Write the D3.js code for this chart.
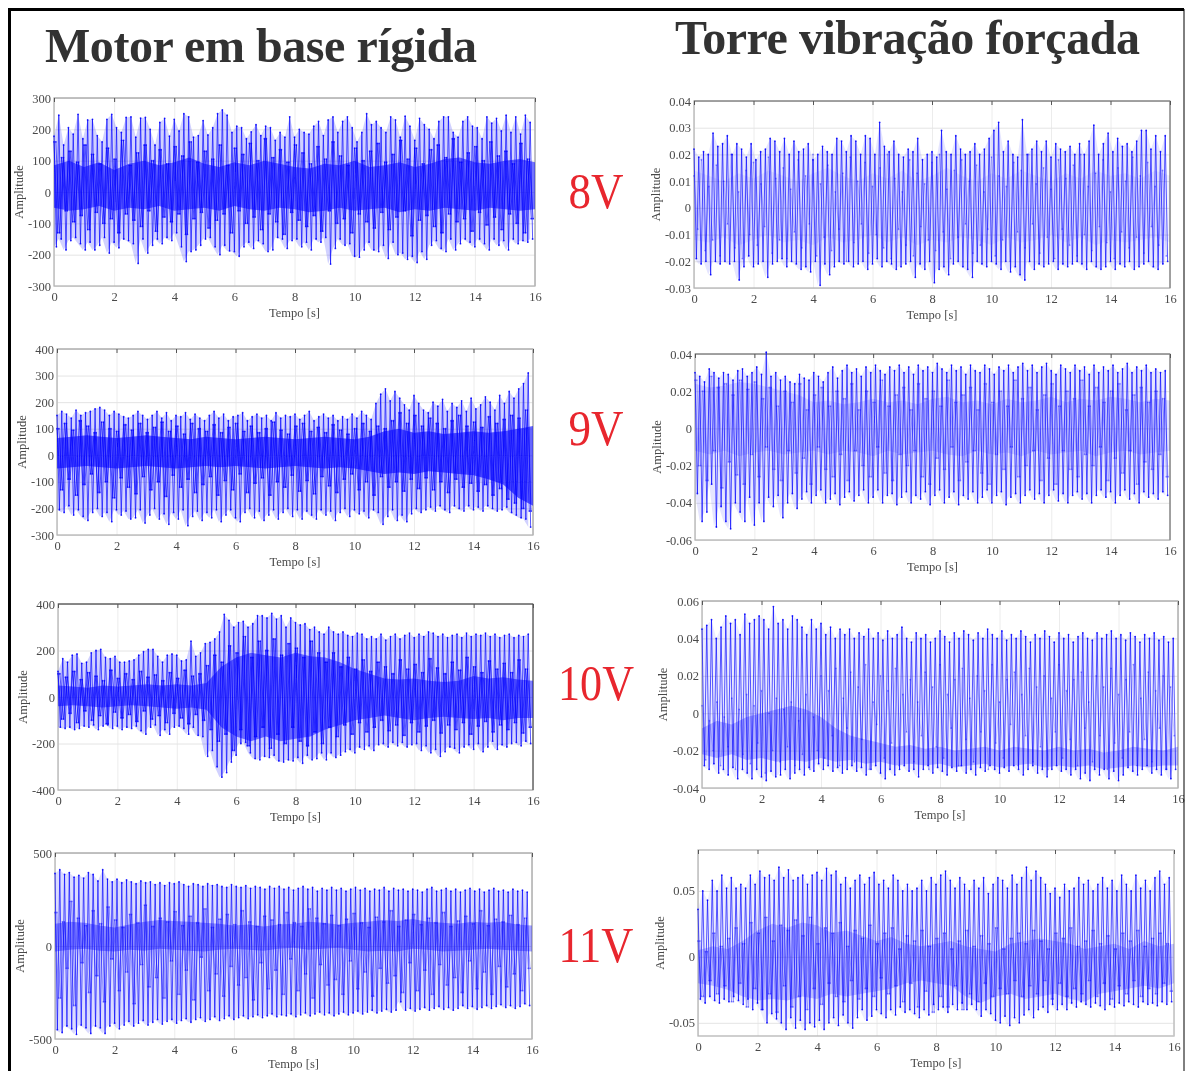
<!DOCTYPE html>
<html>
<head>
<meta charset="utf-8">
<script src="https://cdnjs.cloudflare.com/ajax/libs/d3/7.8.5/d3.min.js"></script>
<style>
html, body { margin: 0; padding: 0; background: #fff; overflow: hidden; }
svg { display: block; }
text { font-family: "Liberation Serif", serif; }
</style>
</head>
<body>
<script>
const WIDTH = 1185;
const HEIGHT = 1071;

const tempoTicks = [0, 2, 4, 6, 8, 10, 12, 14, 16];
const motor8Ticks = [-300, -200, -100, 0, 100, 200, 300];
const motor9Ticks = [-300, -200, -100, 0, 100, 200, 300, 400];
const motor10Ticks = [-400, -200, 0, 200, 400];
const motor11Ticks = [-500, 0, 500];
const torre8Ticks = [-0.03, -0.02, -0.01, 0, 0.01, 0.02, 0.03, 0.04];
const torre9Ticks = [-0.06, -0.04, -0.02, 0, 0.02, 0.04];
const torre10Ticks = [-0.04, -0.02, 0, 0.02, 0.04, 0.06];
const torre11Ticks = [-0.05, 0, 0.05];

// peaks: tallest swings, then the shorter ones between, then the dense band
const motor8Top = [178,245,150,205,185,248,170,230,232,180,160,232,248,205,190,238,240,175,236,238,200,150,222,235,178,232,195,250,240,175,180,228,182,205,250,262,245,190,210,205,170,192,215,180,210,205,165,190,175,240,175,200,190,185,210,225,180,230,240,190,225,240,205,160,190,250,215,225,205,190,240,230,175,242,210,165,235,215,200,170,225,240,240,190,175,225,240,210,205,170,240,220,235,195,245,190,240,185,245,222];
const motor8Bot = [-175,-150,-185,-155,-145,-165,-185,-160,-185,-170,-145,-195,-160,-178,-150,-155,-165,-228,-150,-195,-170,-150,-165,-145,-155,-130,-175,-222,-190,-185,-170,-150,-145,-175,-200,-170,-188,-190,-205,-175,-160,-180,-155,-165,-190,-185,-145,-150,-180,-155,-150,-175,-160,-185,-150,-160,-145,-230,-180,-150,-170,-165,-205,-208,-185,-160,-185,-190,-170,-212,-160,-200,-195,-215,-205,-225,-190,-215,-170,-155,-180,-190,-150,-185,-165,-150,-160,-175,-150,-165,-185,-150,-170,-155,-185,-150,-165,-155,-160,-150];
const motor8MidTop = [160,110,130,95,150,120,90,140,105,165,85,125,150,100,135,90,145,115,160,95,130,105,150,85,140,120,155,100,170,110,135,95,150,125,90,145,105,160,115,85,140,100,130,155,95,120,165,105,140,90,135,150,110,170,95,125,145,100,160,115,130,90,155,105];
const motor8MidBot = [-130,-60,-95,-75,-120,-65,-100,-85,-130,-70,-90,-110,-60,-125,-80,-95,-70,-135,-85,-65,-115,-90,-70,-130,-60,-100,-80,-120,-70,-95,-135,-65,-90,-110,-75,-125,-60,-100,-85,-130,-70,-95,-115,-65,-120,-80,-60,-140,-90,-75,-110,-130,-70,-95,-85,-125,-65,-105,-80,-120,-70,-100,-130,-85];
const motor8CoreTop = [85,100,80,95,70,90,100,85,95,110,90,80,95,85,100,90,80,75,90,85,100,80,85,95,80,90,105,110,95,90,100,105,95];
const motor8CoreBot = [-50,-60,-55,-45,-60,-50,-55,-45,-60,-55,-50,-60,-45,-55,-60,-50,-55,-65,-60,-50,-60,-55,-50,-65,-55,-60,-50,-55,-60,-50,-55,-60,-55];

const motor9Top = [150,165,155,140,170,150,160,165,175,180,170,150,165,155,145,140,150,165,150,135,150,165,140,160,130,150,145,160,135,155,140,130,150,165,140,155,130,145,150,160,130,145,155,140,150,130,160,140,150,145,155,135,150,165,130,145,155,140,150,130,145,135,155,140,165,150,135,195,230,250,205,240,215,190,170,225,195,170,160,200,185,210,165,195,180,205,165,215,175,190,220,200,170,225,195,240,215,250,270,310];
const motor9Bot = [-205,-215,-190,-225,-205,-230,-245,-215,-200,-230,-215,-250,-205,-225,-210,-240,-235,-205,-255,-225,-200,-240,-220,-260,-215,-240,-205,-265,-230,-210,-245,-215,-235,-205,-250,-225,-205,-235,-250,-215,-200,-235,-210,-245,-225,-205,-240,-215,-200,-230,-205,-240,-210,-225,-240,-205,-225,-210,-245,-215,-200,-230,-205,-220,-210,-235,-205,-215,-260,-230,-205,-245,-225,-250,-220,-200,-215,-205,-195,-210,-190,-205,-215,-190,-200,-210,-190,-205,-195,-210,-190,-200,-210,-205,-195,-215,-225,-235,-240,-270];
const motor9MidTop = [100,120,95,130,110,85,125,100,90,115,95,120,85,105,125,90,110,80,120,100,90,115,85,105,120,90,110,85,100,125,95,80,110,120,90,105,85,115,95,80,100,120,90,110,100,130,160,120,150,110,140,120,100,130,150,110,125,105,145,120,135,150,140,170];
const motor9MidBot = [-130,-90,-150,-110,-70,-140,-100,-160,-85,-120,-145,-80,-130,-100,-155,-75,-120,-90,-140,-110,-80,-150,-95,-130,-70,-140,-105,-85,-150,-100,-120,-75,-135,-95,-145,-80,-115,-140,-90,-70,-130,-100,-150,-80,-120,-100,-135,-90,-125,-85,-130,-100,-140,-90,-120,-105,-135,-110,-150,-125,-165,-180,-200,-210];
const motor9CoreTop = [65,70,75,70,65,70,75,70,65,60,70,65,60,65,70,65,60,65,70,65,60,70,90,100,85,90,80,85,90,85,90,100,110];
const motor9CoreBot = [-50,-45,-40,-45,-50,-45,-40,-45,-50,-45,-40,-45,-40,-45,-50,-45,-40,-45,-50,-45,-50,-60,-70,-65,-70,-60,-65,-70,-75,-90,-110,-160,-190];

const motor10Top = [110,165,150,180,185,145,150,190,200,205,170,165,175,150,150,155,160,180,195,205,205,175,150,180,185,180,155,160,240,175,190,230,235,250,280,355,330,300,320,325,300,315,350,350,340,360,335,350,300,340,320,310,315,290,300,280,270,300,280,270,280,265,260,275,270,250,260,250,270,245,260,270,250,265,275,255,270,260,280,275,260,270,255,265,270,255,275,260,270,265,275,260,270,255,265,270,255,265,260,270];
const motor10Bot = [-130,-135,-130,-140,-135,-125,-130,-120,-140,-125,-120,-135,-125,-140,-130,-135,-125,-145,-160,-130,-120,-165,-140,-160,-130,-125,-135,-160,-130,-165,-170,-255,-230,-300,-345,-325,-280,-250,-200,-195,-240,-265,-270,-255,-260,-250,-275,-280,-270,-275,-260,-285,-250,-270,-265,-240,-270,-240,-260,-250,-235,-225,-240,-215,-225,-210,-230,-205,-200,-215,-195,-210,-195,-215,-205,-200,-230,-210,-240,-225,-255,-235,-215,-220,-240,-215,-205,-225,-200,-235,-215,-190,-225,-205,-215,-200,-195,-210,-190,-200];
const motor10MidTop = [100,85,110,75,105,90,70,115,80,100,75,110,85,95,70,105,80,115,90,100,135,180,150,220,190,260,170,240,200,250,180,230,210,170,240,190,150,190,130,170,120,160,110,150,130,100,160,120,140,105,165,125,100,150,115,170,130,105,155,120,145,105,160,120];
const motor10MidBot = [-95,-70,-110,-60,-100,-80,-115,-65,-90,-75,-105,-60,-95,-80,-110,-70,-90,-115,-75,-100,-140,-190,-160,-230,-140,-210,-170,-130,-220,-160,-200,-130,-190,-210,-150,-200,-130,-170,-120,-160,-110,-150,-130,-100,-145,-120,-165,-110,-150,-125,-100,-155,-120,-140,-110,-160,-125,-105,-150,-120,-140,-110,-155,-130];
const motor10CoreTop = [50,45,40,50,45,50,55,50,55,50,60,130,170,190,180,170,190,175,170,150,120,100,80,75,80,70,65,70,90,80,85,75,70];
const motor10CoreBot = [-40,-35,-40,-45,-40,-35,-40,-45,-50,-45,-55,-130,-170,-190,-170,-190,-180,-170,-140,-120,-100,-90,-80,-90,-100,-90,-85,-90,-95,-90,-100,-90,-90];

const motor11Top = [390,410,385,395,370,380,365,395,385,350,410,360,345,360,340,355,345,335,350,340,345,330,340,325,340,335,345,330,320,335,330,320,335,325,330,320,315,330,320,315,325,310,320,315,305,320,310,320,305,315,300,310,320,305,315,295,310,300,315,300,310,295,305,315,300,310,295,305,300,315,295,310,300,305,295,305,300,290,305,315,295,300,310,295,305,290,300,310,295,305,290,300,310,295,300,290,305,295,300,290];
const motor11Bot = [-450,-465,-430,-445,-475,-425,-440,-470,-430,-440,-470,-430,-415,-445,-425,-405,-430,-415,-400,-425,-410,-395,-420,-405,-395,-415,-400,-390,-410,-395,-385,-405,-395,-380,-400,-390,-375,-395,-385,-375,-390,-380,-370,-385,-375,-365,-380,-370,-375,-365,-380,-370,-360,-375,-365,-355,-370,-360,-375,-365,-355,-370,-360,-350,-365,-355,-345,-360,-350,-340,-355,-345,-300,-345,-335,-350,-340,-330,-345,-335,-325,-340,-330,-345,-335,-320,-335,-325,-340,-330,-320,-335,-325,-315,-330,-320,-335,-325,-310,-320];
const motor11MidTop = [180,130,240,150,110,190,120,210,140,100,170,125,220,105,150,130,185,110,160,125,200,100,145,170,115,190,130,105,160,140,115,180,125,105,200,150,120,165,110,145,175,125,100,155,130,190,105,140,170,115,150,125,180,105,135,160,120,190,110,145,130,165,115,150];
const motor11MidBot = [-280,-120,-320,-90,-250,-160,-300,-70,-240,-140,-310,-100,-220,-170,-280,-80,-260,-130,-290,-60,-240,-150,-270,-110,-210,-170,-290,-90,-230,-130,-260,-70,-240,-150,-280,-100,-210,-180,-260,-80,-230,-140,-270,-120,-200,-160,-250,-90,-240,-130,-260,-100,-210,-170,-250,-80,-230,-140,-260,-110,-220,-150,-240,-120];
const motor11CoreTop = [120,130,125,110,100,115,130,140,135,130,125,120,110,115,105,115,120,130,125,115,125,130,140,135,145,130,125,120,130,125,130,115,110];
const motor11CoreBot = [-30,-20,-15,-25,-30,-20,-25,-15,-20,-25,-30,-20,-15,-20,-25,-15,-10,-20,-15,-10,-20,-30,-25,-30,-15,-20,-30,-25,-20,-15,-20,-25,-30];

const torre8Top = [.022,.019,.021,.02,.028,.023,.024,.027,.02,.024,.022,.019,.024,.018,.021,.022,.026,.025,.021,.026,.02,.025,.021,.022,.024,.018,.02,.023,.021,.02,.026,.025,.021,.027,.025,.02,.027,.026,.02,.032,.023,.021,.025,.02,.019,.022,.021,.026,.018,.02,.021,.019,.029,.021,.02,.027,.022,.02,.021,.024,.02,.022,.026,.029,.032,.021,.025,.02,.019,.033,.02,.022,.025,.021,.025,.019,.024,.022,.021,.023,.02,.024,.02,.025,.031,.02,.024,.028,.021,.026,.023,.024,.021,.025,.029,.029,.022,.027,.021,.027];
const torre8Bot = [-.019,-.021,-.02,-.025,-.02,-.021,-.02,-.021,-.02,-.027,-.022,-.018,-.022,-.021,-.02,-.026,-.021,-.02,-.019,-.022,-.02,-.021,-.023,-.022,-.024,-.02,-.029,-.021,-.025,-.022,-.02,-.021,-.02,-.022,-.021,-.02,-.023,-.021,-.019,-.022,-.02,-.021,-.023,-.022,-.021,-.02,-.026,-.021,-.023,-.02,-.028,-.023,-.022,-.025,-.021,-.02,-.022,-.023,-.026,-.02,-.021,-.022,-.02,-.021,-.023,-.02,-.024,-.022,-.025,-.027,-.02,-.023,-.021,-.022,-.021,-.02,-.023,-.021,-.022,-.021,-.02,-.021,-.023,-.02,-.022,-.023,-.022,-.02,-.023,-.021,-.022,-.02,-.023,-.022,-.021,-.02,-.022,-.023,-.021,-.02];
const torre8MidTop = [.012,.018,.008,.016,.01,.02,.006,.014,.017,.009,.019,.011,.015,.007,.018,.012,.02,.009,.016,.006,.013,.019,.01,.017,.008,.015,.02,.011,.006,.018,.013,.009,.017,.02,.007,.014,.018,.01,.016,.006,.019,.012,.008,.017,.014,.02,.009,.015,.007,.018,.011,.016,.02,.008,.013,.018,.006,.015,.01,.019,.012,.017,.008,.014];
const torre8MidBot = [-.008,-.016,-.012,-.018,-.006,-.015,-.019,-.01,-.014,-.007,-.017,-.012,-.019,-.009,-.015,-.006,-.018,-.011,-.016,-.008,-.02,-.013,-.006,-.017,-.01,-.015,-.019,-.008,-.014,-.018,-.007,-.012,-.016,-.009,-.019,-.011,-.006,-.017,-.014,-.008,-.018,-.012,-.02,-.009,-.015,-.006,-.017,-.011,-.019,-.008,-.014,-.018,-.01,-.016,-.007,-.013,-.019,-.009,-.015,-.011,-.017,-.007,-.014,-.018];
const torre8CoreTop = [.014,.012,.01,.013,.011,.014,.012,.01,.013,.015,.012,.01,.013,.011,.014,.01,.012,.015,.012,.01,.013,.011,.014,.012,.01,.013,.011,.014,.012,.013,.011,.014,.012];
const torre8CoreBot = [-.012,-.013,-.011,-.014,-.012,-.01,-.013,-.012,-.014,-.011,-.013,-.012,-.01,-.013,-.011,-.014,-.012,-.013,-.011,-.012,-.014,-.011,-.013,-.012,-.01,-.013,-.011,-.014,-.012,-.013,-.012,-.011,-.013];

const torre9Top = [.03,.028,.025,.032,.03,.027,.03,.029,.026,.031,.032,.028,.03,.033,.029,.041,.028,.03,.026,.028,.025,.024,.029,.027,.026,.03,.028,.025,.03,.033,.027,.031,.034,.03,.032,.028,.033,.03,.034,.031,.029,.033,.031,.034,.03,.033,.029,.034,.031,.033,.03,.035,.032,.03,.034,.031,.033,.029,.034,.031,.03,.034,.032,.029,.033,.031,.034,.03,.033,.035,.031,.034,.03,.033,.035,.031,.029,.034,.032,.03,.034,.031,.033,.029,.034,.03,.033,.031,.034,.03,.032,.035,.03,.033,.031,.034,.03,.032,.03,.031];
const torre9Bot = [-.035,-.05,-.045,-.03,-.053,-.042,-.05,-.054,-.04,-.045,-.05,-.037,-.052,-.04,-.05,-.037,-.042,-.036,-.048,-.04,-.035,-.043,-.038,-.034,-.04,-.036,-.033,-.04,-.038,-.035,-.041,-.037,-.034,-.039,-.036,-.033,-.04,-.037,-.033,-.04,-.036,-.035,-.041,-.037,-.034,-.04,-.036,-.038,-.034,-.041,-.036,-.033,-.04,-.037,-.034,-.041,-.036,-.038,-.034,-.04,-.037,-.033,-.04,-.036,-.034,-.041,-.037,-.035,-.04,-.036,-.033,-.038,-.035,-.04,-.036,-.033,-.039,-.035,-.04,-.036,-.034,-.038,-.035,-.04,-.036,-.033,-.037,-.034,-.04,-.036,-.033,-.038,-.035,-.04,-.034,-.037,-.035,-.038,-.034,-.036];
const torre9MidTop = [.026,.02,.028,.022,.024,.018,.026,.021,.025,.016,.022,.012,.02,.014,.024,.01,.018,.022,.012,.02,.016,.024,.01,.02,.014,.026,.012,.018,.022,.01,.024,.016,.02,.012,.026,.014,.018,.022,.01,.024,.014,.02,.012,.026,.016,.022,.01,.018,.024,.012,.02,.016,.026,.012,.022,.014,.02,.024,.01,.018,.022,.014,.02,.016];
const torre9MidBot = [-.02,-.028,-.012,-.032,-.018,-.025,-.03,-.014,-.026,-.01,-.022,-.028,-.012,-.024,-.016,-.03,-.01,-.022,-.026,-.014,-.028,-.012,-.02,-.026,-.01,-.024,-.028,-.014,-.02,-.012,-.026,-.03,-.016,-.022,-.01,-.028,-.018,-.012,-.024,-.03,-.014,-.022,-.01,-.026,-.02,-.012,-.028,-.016,-.03,-.012,-.022,-.026,-.014,-.02,-.01,-.028,-.016,-.024,-.012,-.03,-.018,-.022,-.014,-.026];
const torre9CoreTop = [.024,.022,.023,.025,.024,.022,.02,.018,.014,.015,.013,.014,.016,.014,.015,.013,.016,.017,.014,.015,.013,.016,.014,.015,.017,.014,.016,.015,.017,.016,.014,.016,.015];
const torre9CoreBot = [-.012,-.014,-.012,-.015,-.013,-.012,-.014,-.013,-.012,-.014,-.012,-.013,-.015,-.012,-.014,-.013,-.012,-.014,-.015,-.012,-.014,-.013,-.015,-.012,-.014,-.013,-.012,-.015,-.013,-.012,-.014,-.013,-.012];

const torre10Top = [.045,.047,.05,.04,.046,.052,.048,.05,.042,.053,.048,.05,.052,.05,.045,.057,.048,.05,.045,.052,.05,.046,.042,.05,.045,.048,.042,.046,.04,.045,.042,.045,.04,.043,.041,.045,.04,.043,.039,.044,.04,.042,.046,.04,.038,.043,.04,.042,.038,.04,.044,.041,.038,.043,.04,.044,.042,.039,.043,.04,.045,.042,.04,.044,.039,.042,.04,.044,.041,.038,.042,.04,.044,.041,.038,.043,.04,.042,.038,.041,.043,.04,.039,.043,.04,.042,.044,.04,.042,.039,.043,.041,.038,.042,.04,.043,.039,.041,.038,.04];
const torre10Bot = [-.028,-.03,-.027,-.032,-.03,-.033,-.029,-.035,-.03,-.032,-.035,-.03,-.034,-.036,-.031,-.034,-.033,-.03,-.035,-.032,-.03,-.033,-.029,-.031,-.027,-.03,-.028,-.031,-.029,-.032,-.03,-.028,-.031,-.029,-.033,-.03,-.028,-.032,-.035,-.03,-.033,-.03,-.028,-.031,-.03,-.034,-.03,-.028,-.032,-.029,-.031,-.033,-.029,-.031,-.028,-.032,-.03,-.033,-.029,-.031,-.028,-.03,-.032,-.029,-.031,-.028,-.03,-.033,-.03,-.028,-.032,-.03,-.034,-.03,-.028,-.031,-.03,-.033,-.03,-.035,-.032,-.036,-.03,-.033,-.03,-.035,-.031,-.036,-.033,-.029,-.031,-.033,-.03,-.028,-.032,-.03,-.033,-.03,-.035,-.03];
const torre10MidTop = [.004,-.004,.006,-.002,.008,.002,.01,.004,.012,0,.008,.002,.006,-.004,.01,-.002,.02,.012,.024,.008,.022,.014,.026,.006,.02,.012,.024,.01,.018,.006,.022,.014,.026,.01,.018,.024,.008,.02,.012,.026,.006,.018,.022,.01,.024,.014,.02,.008,.026,.012,.018,.022,.006,.02,.014,.024,.01,.018,.026,.008,.022,.012,.02,.014];
const torre10MidBot = [-.025,-.02,-.028,-.018,-.03,-.022,-.027,-.016,-.032,-.02,-.026,-.018,-.028,-.022,-.03,-.02,-.024,-.012,-.028,-.008,-.026,-.014,-.03,-.006,-.024,-.016,-.028,-.01,-.026,-.012,-.03,-.018,-.024,-.008,-.028,-.014,-.026,-.01,-.03,-.016,-.024,-.006,-.028,-.012,-.026,-.018,-.03,-.01,-.024,-.014,-.028,-.008,-.026,-.012,-.03,-.016,-.024,-.01,-.028,-.014,-.026,-.008,-.03,-.012];
const torre10CoreTop = [-.008,-.004,-.006,-.002,0,.002,.004,.002,-.002,-.008,-.012,-.014,-.016,-.018,-.017,-.019,-.018,-.02,-.019,-.018,-.02,-.018,-.019,-.02,-.018,-.02,-.019,-.021,-.02,-.018,-.019,-.02,-.018];
const torre10CoreBot = [-.022,-.024,-.022,-.025,-.024,-.026,-.025,-.026,-.024,-.026,-.025,-.027,-.026,-.028,-.027,-.028,-.027,-.029,-.028,-.027,-.029,-.028,-.027,-.029,-.028,-.029,-.028,-.03,-.029,-.028,-.029,-.028,-.028];

const torre11Top = [.036,.05,.043,.058,.05,.062,.052,.06,.052,.055,.052,.062,.055,.065,.06,.062,.058,.068,.06,.066,.058,.06,.062,.055,.062,.064,.058,.067,.062,.065,.055,.06,.052,.058,.062,.055,.06,.064,.055,.058,.052,.062,.058,.05,.055,.05,.052,.058,.05,.06,.055,.062,.065,.058,.052,.06,.055,.05,.058,.052,.06,.048,.055,.06,.058,.052,.062,.055,.06,.068,.058,.065,.06,.055,.048,.052,.045,.055,.05,.052,.06,.055,.058,.05,.055,.06,.052,.058,.05,.062,.055,.05,.062,.052,.058,.05,.06,.065,.055,.06];
const torre11Bot = [-.032,-.035,-.03,-.033,-.035,-.032,-.034,-.03,-.033,-.036,-.032,-.04,-.035,-.04,-.05,-.043,-.047,-.05,-.055,-.046,-.054,-.048,-.055,-.05,-.053,-.048,-.055,-.05,-.046,-.052,-.044,-.05,-.054,-.046,-.04,-.048,-.045,-.04,-.043,-.046,-.04,-.044,-.038,-.042,-.04,-.043,-.046,-.04,-.044,-.036,-.04,-.038,-.042,-.036,-.04,-.035,-.04,-.036,-.04,-.045,-.04,-.043,-.048,-.05,-.045,-.052,-.046,-.05,-.044,-.04,-.046,-.04,-.038,-.042,-.036,-.04,-.036,-.04,-.035,-.038,-.034,-.036,-.038,-.035,-.037,-.04,-.036,-.038,-.035,-.037,-.034,-.036,-.038,-.034,-.036,-.035,-.037,-.034,-.036,-.034];
const torre11MidTop = [.012,.004,.018,.008,.014,.022,.01,.026,.018,.03,.012,.024,.02,.028,.016,.03,.01,.022,.018,.026,.008,.02,.014,.024,.01,.018,.022,.006,.016,.012,.02,.008,.014,.018,.006,.012,.02,.008,.016,.01,.022,.006,.014,.018,.01,.02,.012,.006,.018,.014,.022,.008,.012,.02,.01,.016,.006,.018,.012,.02,.008,.014,.018,.01];
const torre11MidBot = [-.03,-.018,-.028,-.022,-.034,-.02,-.038,-.024,-.04,-.028,-.042,-.022,-.038,-.03,-.04,-.024,-.036,-.02,-.03,-.034,-.018,-.032,-.024,-.03,-.016,-.028,-.022,-.034,-.02,-.038,-.026,-.042,-.03,-.038,-.022,-.04,-.028,-.034,-.02,-.03,-.024,-.028,-.018,-.03,-.022,-.028,-.018,-.032,-.02,-.03,-.024,-.028,-.018,-.03,-.02,-.032,-.022,-.028,-.018,-.03,-.024,-.028,-.02,-.026];
const torre11CoreTop = [.005,.008,.006,.012,.02,.025,.022,.026,.024,.018,.02,.016,.012,.015,.01,.008,.01,.012,.008,.006,.004,.01,.012,.014,.012,.01,.006,.008,.01,.006,.012,.008,.01];
const torre11CoreBot = [-.02,-.022,-.025,-.03,-.033,-.032,-.033,-.03,-.032,-.028,-.03,-.028,-.026,-.024,-.02,-.018,-.02,-.022,-.03,-.035,-.03,-.028,-.032,-.03,-.028,-.032,-.034,-.028,-.026,-.024,-.022,-.024,-.02];

const panels = [
    {x0:54, x1:535, y0:98, y1:286, domain:[-300,300], ticks:motor8Ticks, top:motor8Top, bot:motor8Bot, midTop:motor8MidTop, midBot:motor8MidBot, coreTop:motor8CoreTop, coreBot:motor8CoreBot, coreAlpha:.55, midAlpha:.6, passes:2, envAlpha:.18, amp:31, tempo:31, edge:'#b5b5b5'},
    {x0:57, x1:533, y0:349, y1:535, domain:[-300,400], ticks:motor9Ticks, top:motor9Top, bot:motor9Bot, midTop:motor9MidTop, midBot:motor9MidBot, coreTop:motor9CoreTop, coreBot:motor9CoreBot, coreAlpha:.6, midAlpha:.6, passes:2, envAlpha:.18, amp:31, tempo:31, edge:'#b5b5b5'},
    {x0:58, x1:533, y0:604, y1:790, domain:[-400,400], ticks:motor10Ticks, top:motor10Top, bot:motor10Bot, midTop:motor10MidTop, midBot:motor10MidBot, coreTop:motor10CoreTop, coreBot:motor10CoreBot, coreAlpha:.5, midAlpha:.6, passes:2, envAlpha:.18, amp:31, tempo:31, edge:'#444'},
    {x0:55, x1:532, y0:853, y1:1039, domain:[-500,500], ticks:motor11Ticks, top:motor11Top, bot:motor11Bot, midTop:motor11MidTop, midBot:motor11MidBot, coreTop:motor11CoreTop, coreBot:motor11CoreBot, coreAlpha:.35, midAlpha:.3, passes:2, envAlpha:.14, amp:31, tempo:29, edge:'#b5b5b5'},
    {x0:694, x1:1170, y0:101, y1:288, domain:[-0.03,0.04], ticks:torre8Ticks, top:torre8Top, bot:torre8Bot, midTop:torre8MidTop, midBot:torre8MidBot, coreTop:torre8CoreTop, coreBot:torre8CoreBot, coreAlpha:.06, midAlpha:.2, passes:1, envAlpha:.1, amp:34, tempo:31, edge:'#777'},
    {x0:695, x1:1170, y0:354, y1:540, domain:[-0.06,0.04], ticks:torre9Ticks, top:torre9Top, bot:torre9Bot, midTop:torre9MidTop, midBot:torre9MidBot, coreTop:torre9CoreTop, coreBot:torre9CoreBot, coreAlpha:.12, midAlpha:.2, passes:2, envAlpha:.1, amp:34, tempo:31, edge:'#777'},
    {x0:702, x1:1178, y0:601, y1:788, domain:[-0.04,0.06], ticks:torre10Ticks, top:torre10Top, bot:torre10Bot, midTop:torre10MidTop, midBot:torre10MidBot, coreTop:torre10CoreTop, coreBot:torre10CoreBot, coreAlpha:.25, midAlpha:.2, passes:1, envAlpha:.08, amp:35, tempo:31, edge:'#b5b5b5'},
    {x0:698, x1:1174, y0:850, y1:1036, domain:[-0.06,0.081], ticks:torre11Ticks, top:torre11Top, bot:torre11Bot, midTop:torre11MidTop, midBot:torre11MidBot, coreTop:torre11CoreTop, coreBot:torre11CoreBot, coreAlpha:.2, midAlpha:.25, passes:2, envAlpha:.08, amp:34, tempo:31, edge:'#cfcfcf'}
];

const svg = d3.select('body').append('svg')
    .attr('width', WIDTH)
    .attr('height', HEIGHT);

svg.append('rect').attr('width', WIDTH).attr('height', HEIGHT).attr('fill', '#fff');

// the reference is a soft scan
svg.append('defs').append('filter')
    .attr('id', 'soft')
    .attr('filterUnits', 'userSpaceOnUse')
    .attr('x', 0).attr('y', 0)
    .attr('width', WIDTH).attr('height', HEIGHT)
    .append('feGaussianBlur').attr('stdDeviation', 0.4);

const root = svg.append('g').attr('filter', 'url(#soft)');

var fontSet = function(sel) {
    sel.attr('font-family', '"Liberation Serif", serif').attr('font-size', 12.5).attr('fill', '#4a4a4a');
};

var drawTrace = function(g, x, y, tops, bots, alpha, shift) {
    var n = Math.min(tops.length, bots.length);
    var step = 16 / n;
    var trace = [];
    for (var i = 0; i < n; i++) {
        trace.push([(i + shift) * step, tops[i]]);
        trace.push([(i + shift + 0.5) * step, bots[i]]);
    }
    var line = d3.line().x(d => x(d[0])).y(d => y(d[1]));
    g.append('path')
        .attr('d', line(trace))
        .attr('fill', 'none')
        .attr('stroke', '#0000ff')
        .attr('stroke-opacity', alpha)
        .attr('stroke-width', 1);
    g.append('g').selectAll('circle')
        .data(trace)
        .enter()
        .append('circle')
        .attr('cx', d => x(d[0]))
        .attr('cy', d => y(d[1]))
        .attr('r', 0.9)
        .attr('fill', '#0000ff')
        .attr('fill-opacity', Math.min(1, alpha + 0.2));
};

var drawPanel = function(p) {
    var x = d3.scaleLinear().domain([0, 16]).range([p.x0, p.x1]);
    var y = d3.scaleLinear().domain(p.domain).range([p.y1, p.y0]);
    var g = root.append('g');

    // grid
    g.append('g').attr('transform', 'translate(0,' + p.y1 + ')')
        .call(d3.axisBottom(x).tickValues(tempoTicks).tickSize(-(p.y1 - p.y0)).tickFormat(''))
        .call(a => a.selectAll('line').attr('stroke', '#ececec'))
        .call(a => a.select('.domain').remove());
    g.append('g').attr('transform', 'translate(' + p.x0 + ',0)')
        .call(d3.axisLeft(y).tickValues(p.ticks).tickSize(-(p.x1 - p.x0)).tickFormat(''))
        .call(a => a.selectAll('line').attr('stroke', '#e4e4e4'))
        .call(a => a.select('.domain').remove());

    // box, bottom and left are the pale axis lines
    g.append('rect')
        .attr('x', p.x0).attr('y', p.y0)
        .attr('width', p.x1 - p.x0).attr('height', p.y1 - p.y0)
        .attr('fill', 'none').attr('stroke', '#b5b5b5').attr('stroke-width', 1.3);
    g.append('path')
        .attr('d', 'M' + p.x0 + ',' + p.y0 + 'H' + p.x1 + 'V' + p.y1)
        .attr('fill', 'none').attr('stroke', p.edge);

    // short dark ticks along the top edge
    g.append('g').attr('transform', 'translate(0,' + p.y0 + ')')
        .call(d3.axisTop(x).tickValues(tempoTicks).tickSize(-4).tickFormat(''))
        .call(a => a.selectAll('line').attr('stroke', '#555'))
        .call(a => a.select('.domain').remove());

    // pale fill between the tallest peaks
    var n = Math.min(p.top.length, p.bot.length);
    var envelope = d3.area()
        .x(function(d, i) { return x(i * 16 / n); })
        .y0(function(d, i) { return y(p.bot[i]); })
        .y1(function(d) { return y(d); });
    g.append('path')
        .attr('d', envelope(p.top.slice(0, n)))
        .attr('fill', '#0000ff')
        .attr('fill-opacity', p.envAlpha);

    // dense band in the middle
    var band = d3.area()
        .x(function(d, i) { return x(i / (p.coreTop.length - 1) * 16); })
        .y0(function(d, i) { return y(p.coreBot[i]); })
        .y1(function(d) { return y(d); });
    g.append('path')
        .attr('d', band(p.coreTop))
        .attr('fill', '#0000ff')
        .attr('fill-opacity', p.coreAlpha);

    drawTrace(g, x, y, p.midTop, p.midBot, p.midAlpha, 0);
    if (p.passes > 1) drawTrace(g, x, y, p.midTop, p.midBot, p.midAlpha, 0.25);
    drawTrace(g, x, y, p.top, p.bot, 0.65, 0);

    // tick labels
    g.append('g').attr('transform', 'translate(0,' + p.y1 + ')')
        .call(d3.axisBottom(x).tickValues(tempoTicks).tickSize(0).tickPadding(6).tickFormat(d => String(d)))
        .call(a => a.select('.domain').remove())
        .call(a => a.selectAll('text').call(fontSet));
    g.append('g').attr('transform', 'translate(' + p.x0 + ',0)')
        .call(d3.axisLeft(y).tickValues(p.ticks).tickSize(0).tickPadding(3).tickFormat(d => String(d)))
        .call(a => a.select('.domain').remove())
        .call(a => a.selectAll('text').call(fontSet));

    g.append('text')
        .attr('x', (p.x0 + p.x1) / 2).attr('y', p.y1 + p.tempo)
        .attr('text-anchor', 'middle')
        .call(fontSet)
        .text('Tempo [s]');
    g.append('text')
        .attr('transform', 'translate(' + (p.x0 - p.amp) + ',' + ((p.y0 + p.y1) / 2) + ') rotate(-90)')
        .attr('text-anchor', 'middle')
        .call(fontSet)
        .text('Amplitude');
};

panels.forEach(drawPanel);

var title = function(label, x, y, len) {
    root.append('text')
        .attr('x', x).attr('y', y)
        .attr('font-size', 48).attr('font-weight', 'bold').attr('fill', '#333')
        .attr('textLength', len).attr('lengthAdjust', 'spacing')
        .text(label);
};
title('Motor em base rígida', 45, 62, 432);
title('Torre vibração forçada', 675, 54, 465);

var voltage = function(label, y, len) {
    root.append('text')
        .attr('x', 596).attr('y', y)
        .attr('text-anchor', 'middle').attr('font-size', 50).attr('fill', '#e8262d')
        .attr('textLength', len).attr('lengthAdjust', 'spacingAndGlyphs')
        .text(label);
};
voltage('8V', 208, 55);
voltage('9V', 445, 55);
voltage('10V', 700, 76);
voltage('11V', 962, 75);

// outer frame of the figure, open at the bottom
svg.append('path')
    .attr('d', 'M9.5,1071V9.5H1184')
    .attr('fill', 'none')
    .attr('stroke', '#000')
    .attr('stroke-width', 3);
svg.append('line')
    .attr('x1', 1184).attr('x2', 1184).attr('y1', 9).attr('y2', 1071)
    .attr('stroke', '#000').attr('stroke-width', 1);
</script>
</body>
</html>
